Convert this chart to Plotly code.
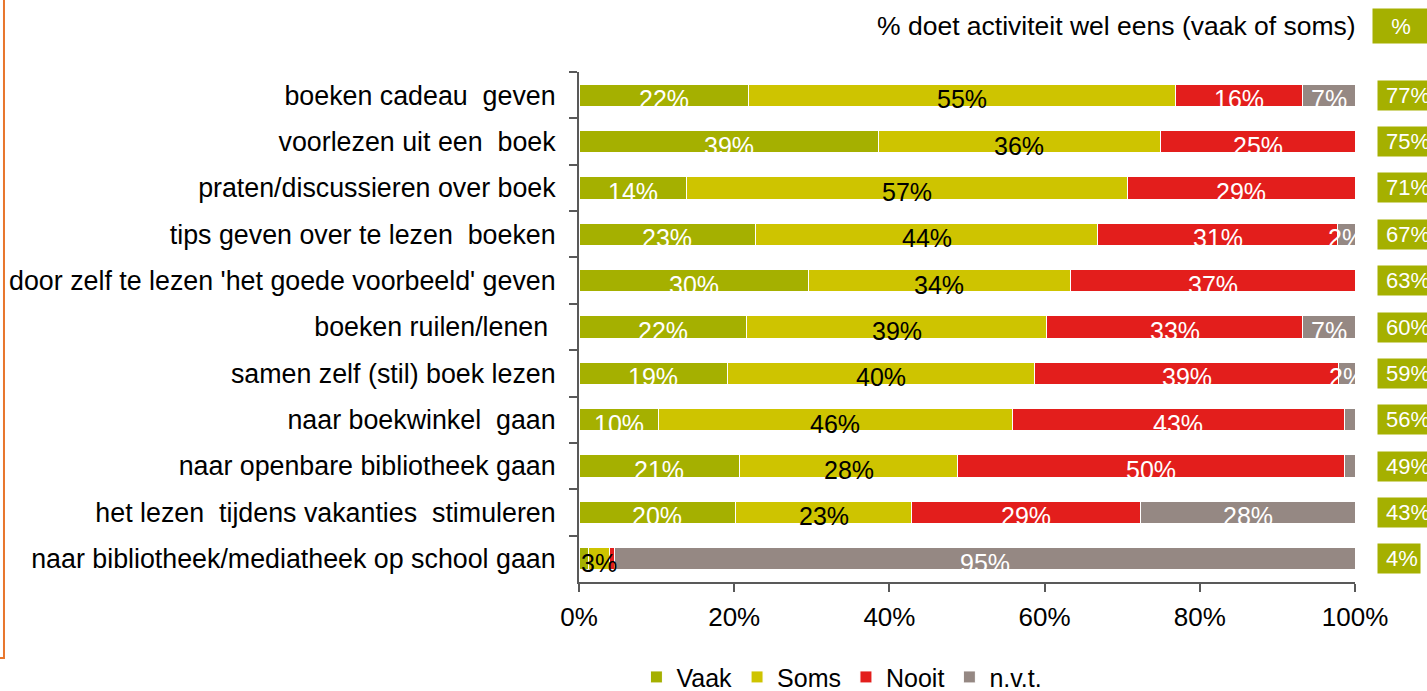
import plotly.graph_objects as go

categories = [
    "boeken cadeau  geven",
    "voorlezen uit een  boek",
    "praten/discussieren over boek",
    "tips geven over te lezen  boeken",
    "door zelf te lezen 'het goede voorbeeld' geven",
    "boeken ruilen/lenen ",
    "samen zelf (stil) boek lezen",
    "naar boekwinkel  gaan",
    "naar openbare bibliotheek gaan",
    "het lezen  tijdens vakanties  stimuleren",
    "naar bibliotheek/mediatheek op school gaan",
]
vaak = [21.8, 38.6, 13.8, 22.8, 29.6, 21.6, 19.1, 10.2, 20.7, 20.2, 1.2]
soms = [55.1, 36.3, 56.9, 44.0, 33.7, 38.7, 39.6, 45.6, 28.1, 22.7, 2.7]
nooit = [16.3, 25.1, 29.3, 31.0, 36.7, 32.9, 39.2, 42.9, 49.9, 29.4, 0.7]
nvt = [6.8, 0.0, 0.0, 2.2, 0.0, 6.8, 2.1, 1.3, 1.3, 27.7, 95.4]
wel_eens = [77, 75, 71, 67, 63, 60, 59, 56, 49, 43, 4]
x_ticks = [0, 20, 40, 60, 80, 100]

series = [
    ("Vaak", vaak, "#a5b000", "white"),
    ("Soms", soms, "#cec400", "black"),
    ("Nooit", nooit, "#e31e1c", "white"),
    ("n.v.t.", nvt, "#958883", "white"),
]

FONT = "Liberation Sans, Arial, sans-serif"
fig = go.Figure()
for name, vals, col, _ in series:
    fig.add_trace(go.Bar(
        y=categories, x=vals, name=name, orientation="h",
        marker=dict(color=col, line=dict(color="white", width=1)),
        hoverinfo="skip",
    ))

annotations = []
cum = [0.0] * len(categories)
for name, vals, col, tcol in series:
    for i, v in enumerate(vals):
        if v >= 1.5:
            annotations.append(dict(
                x=cum[i] + v / 2, y=categories[i], xref="x", yref="y",
                text=f"{round(v)}%", showarrow=False, yshift=-4,
                font=dict(family=FONT, size=25, color=tcol),
            ))
        cum[i] += v

for i, t in enumerate(wel_eens):
    annotations.append(dict(
        x=1.0284, y=categories[i], xref="paper", yref="y", xanchor="left",
        text=f" {t}%", showarrow=False, bgcolor="#a5b000", borderpad=2,
        font=dict(family=FONT, size=22, color="white"),
    ))

annotations.append(dict(
    x=1.0039, y=1.090, xref="paper", yref="paper", xanchor="right", yanchor="middle",
    text="% doet activiteit wel eens (vaak of soms)", showarrow=False,
    font=dict(family=FONT, size=26.5, color="black"),
))
annotations.append(dict(
    x=1.0219, y=1.090, xref="paper", yref="paper", xanchor="left", yanchor="middle",
    text="%", showarrow=False, bgcolor="#a5b000", borderpad=2, width=52, height=30,
    align="center", font=dict(family=FONT, size=22, color="white"),
))

fig.update_layout(
    barmode="stack",
    bargap=0.52,
    width=1427, height=691,
    margin=dict(l=579, r=72, t=72, b=109, autoexpand=False),
    paper_bgcolor="white", plot_bgcolor="white",
    font=dict(family=FONT, size=24, color="black"),
    annotations=annotations,
    legend=dict(orientation="h", xref="container", yref="container",
                x=0.590, xanchor="center", y=0.02, yanchor="middle",
                font=dict(family=FONT, size=25, color="black"),
                traceorder="normal"),
    shapes=[dict(type="path", xref="paper", yref="paper",
                 path="M -0.741 1.2 L -0.741 -0.149 L -0.75 -0.149",
                 line=dict(color="#e8762c", width=2))],
    xaxis=dict(range=[0, 100], tickvals=x_ticks, ticktext=[f"{t}%" for t in x_ticks],
               showgrid=False, zeroline=False, showline=True, linecolor="#595959", linewidth=2,
               ticks="outside", ticklen=8, tickcolor="#595959", tickwidth=2,
               ticklabelstandoff=3,
               tickfont=dict(family=FONT, size=26, color="black")),
    yaxis=dict(autorange="reversed", showgrid=False, showline=True, linecolor="#595959",
               linewidth=2, ticks="outside", ticklen=8, tickcolor="#595959", tickwidth=2,
               tickson="boundaries", ticklabelstandoff=16,
               tickfont=dict(family=FONT, size=26.8, color="black")),
)
fig.write_html("out.html", config={"displayModeBar": False},
               post_script="document.body.style.margin='0';")
